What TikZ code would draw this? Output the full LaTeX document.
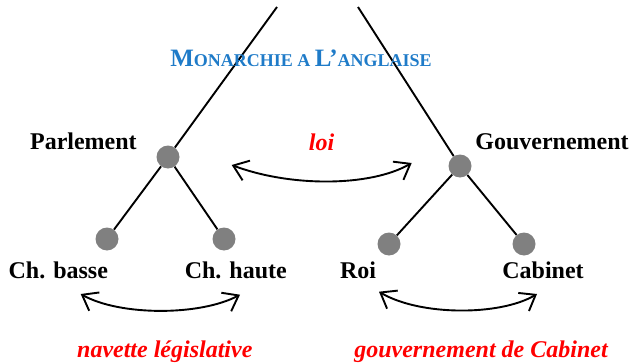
\documentclass[tikz,border=0pt]{standalone}
\usepackage{fontspec}
\setmainfont{Liberation Serif}
\usetikzlibrary{arrows.meta}
\definecolor{titleblue}{HTML}{1F7BC8}
\definecolor{dotgrey}{HTML}{808080}
\begin{document}
\begin{tikzpicture}[x=1pt,y=-1pt,
  dot/.style={circle,fill=dotgrey,minimum size=23pt,inner sep=0pt},
  lbl/.style={anchor=base,inner sep=0pt,font=\fontsize{24}{28}\selectfont\bfseries},
  redlbl/.style={anchor=base,inner sep=0pt,text=red,font=\fontsize{24}{28}\selectfont\bfseries\itshape},
  branch/.style={line width=1.9pt},
  dblarrow/.style={line width=1.9pt,{Straight Barb[length=14pt,width=21pt]}-{Straight Barb[length=14pt,width=21pt]}}]
\useasboundingbox (0,0) rectangle (630,364);
% tree points
\coordinate (ltop) at (277,7);
\coordinate (rtop) at (358,7);
\node[dot] (parl) at (168,157) {};
\node[dot] (chb) at (107,239) {};
\node[dot] (chh) at (224,239) {};
\node[dot] (gouv) at (460,166) {};
\node[dot] (roi) at (389,244) {};
\node[dot] (cab) at (524,244) {};
% branches
\draw[branch] (ltop) -- (parl);
\draw[branch] (parl) -- (chb);
\draw[branch] (parl) -- (chh);
\draw[branch] (rtop) -- (gouv);
\draw[branch] (gouv) -- (roi);
\draw[branch] (gouv) -- (cab);
% title
\node[anchor=base,inner sep=0pt,text=titleblue,font=\bfseries] (title) at (301,66.7)
  {{\fontsize{25}{30}\selectfont M}{\fontsize{18}{22}\selectfont ONARCHIE A }{\fontsize{25}{30}\selectfont L’}{\fontsize{18}{22}\selectfont ANGLAISE}};
% labels
\node[lbl] (tparl) at (83.4,149.3) {Parlement};
\node[lbl] (tgouv) at (552,149.3) {Gouvernement};
\node[lbl] (tchb) at (58.3,278.3) {Ch. basse};
\node[lbl] (tchh) at (235.8,278.3) {Ch. haute};
\node[lbl] (troi) at (358,278.3) {Roi};
\node[lbl] (tcab) at (543,278.3) {Cabinet};
\node[redlbl] (tloi) at (321.5,150) {loi};
\node[redlbl] (tnav) at (164.8,357.3) {navette législative};
\node[redlbl] (tgdc) at (481,357.3) {gouvernement de Cabinet};
% arrows
\coordinate (loiA) at (231.7,165);
\coordinate (loiB) at (411.7,163);
\coordinate (navA) at (80.7,294);
\coordinate (navB) at (240,294.7);
\coordinate (cabA) at (379,291.7);
\coordinate (cabB) at (537,294);
\draw[dblarrow] (loiA) .. controls (290,187) and (370,187) .. (loiB);
\draw[dblarrow] (navA) .. controls (120,316) and (200,316) .. (navB);
\draw[dblarrow] (cabA) .. controls (420,316) and (500,316) .. (cabB);
\end{tikzpicture}
\end{document}
